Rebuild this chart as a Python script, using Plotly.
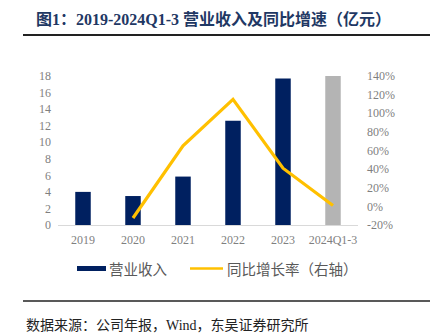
import plotly.graph_objects as go

categories = ["2019", "2020", "2021", "2022", "2023", "2024Q1-3"]
revenue = [4.0, 3.5, 5.85, 12.6, 17.7, 18.0]
growth_cats = ["2020", "2021", "2022", "2023", "2024Q1-3"]
growth = [-12.5, 65.0, 115.0, 41.0, 1.0]
bar_colors = ["#002060", "#002060", "#002060", "#002060", "#002060", "#B4B4B4"]
left_ticks = list(range(0, 19, 2))
right_ticks = list(range(-20, 141, 20))

W, H = 430, 333
L, R, T, B = 58, 358, 76, 225

fig = go.Figure()
fig.add_trace(go.Bar(x=categories, y=revenue, marker=dict(color=bar_colors, line=dict(width=0)),
                     showlegend=False, yaxis="y"))
fig.add_trace(go.Scatter(x=growth_cats, y=growth, mode="lines",
                         line=dict(color="#FFC000", width=3.2), showlegend=False, yaxis="y2"))

tickfont = dict(family="Liberation Serif, Times New Roman, serif", size=12, color="#7F7F7F")
fig.update_layout(
    width=W, height=H,
    margin=dict(l=L, r=W - R, t=T, b=H - B),
    paper_bgcolor="white", plot_bgcolor="white",
    bargap=0.69,
    xaxis=dict(type="category", showgrid=False, showline=True, linecolor="#D9D9D9", linewidth=1,
               ticks="", tickfont=tickfont, ticklabelstandoff=4),
    yaxis=dict(range=[0, 18], tickvals=left_ticks, showgrid=False, zeroline=False,
               showline=False, ticks="", tickfont=tickfont, ticklabelstandoff=6),
    yaxis2=dict(range=[-20, 140], tickvals=right_ticks, ticktext=[f"{v}%" for v in right_ticks],
                overlaying="y", side="right", showgrid=False, zeroline=False, showline=False,
                ticks="", tickfont=tickfont, ticklabelstandoff=8),
    showlegend=False,
)


def py(y):
    return (B - y) / (B - T)


def pxx(x):
    return (x - L) / (R - L)


shapes = [
    # title underline
    dict(type="line", xref="paper", yref="paper", x0=pxx(23), x1=pxx(430),
         y0=py(35), y1=py(35), line=dict(color="#222222", width=2)),
    # bottom rule
    dict(type="line", xref="paper", yref="paper", x0=pxx(23), x1=pxx(430),
         y0=py(301), y1=py(301), line=dict(color="#222222", width=1.5)),
    # legend navy rect
    dict(type="rect", xref="paper", yref="paper", x0=pxx(77), x1=pxx(106),
         y0=py(271), y1=py(266), fillcolor="#002060", line=dict(width=0)),
    # legend yellow line
    dict(type="line", xref="paper", yref="paper", x0=pxx(190), x1=pxx(223),
         y0=py(268.5), y1=py(268.5), line=dict(color="#FFC000", width=2.5)),
]
fig.update_layout(shapes=shapes)

annotations = [
    dict(text="<b>图1：2019-2024Q1-3 营业收入及同比增速（亿元）</b>", x=pxx(34), y=py(19),
         xref="paper", yref="paper", xanchor="left", yanchor="middle", showarrow=False,
         font=dict(family="Liberation Serif, Noto Sans CJK SC", size=16, color="#1F3864")),
    dict(text="营业收入", x=pxx(107), y=py(268.5), xref="paper", yref="paper", xanchor="left",
         yanchor="middle", showarrow=False,
         font=dict(family="Noto Sans CJK SC", size=14.5, color="#595959")),
    dict(text="同比增长率（右轴）", x=pxx(225), y=py(268.5), xref="paper", yref="paper", xanchor="left",
         yanchor="middle", showarrow=False,
         font=dict(family="Noto Sans CJK SC", size=14.5, color="#595959")),
    dict(text="数据来源：公司年报，Wind，东吴证券研究所", x=pxx(24), y=py(325), xref="paper", yref="paper",
         xanchor="left", yanchor="middle", showarrow=False,
         font=dict(family="Liberation Serif, Noto Sans CJK SC", size=14, color="#222222")),
]
fig.update_layout(annotations=annotations)

fig.write_html("out.html")
